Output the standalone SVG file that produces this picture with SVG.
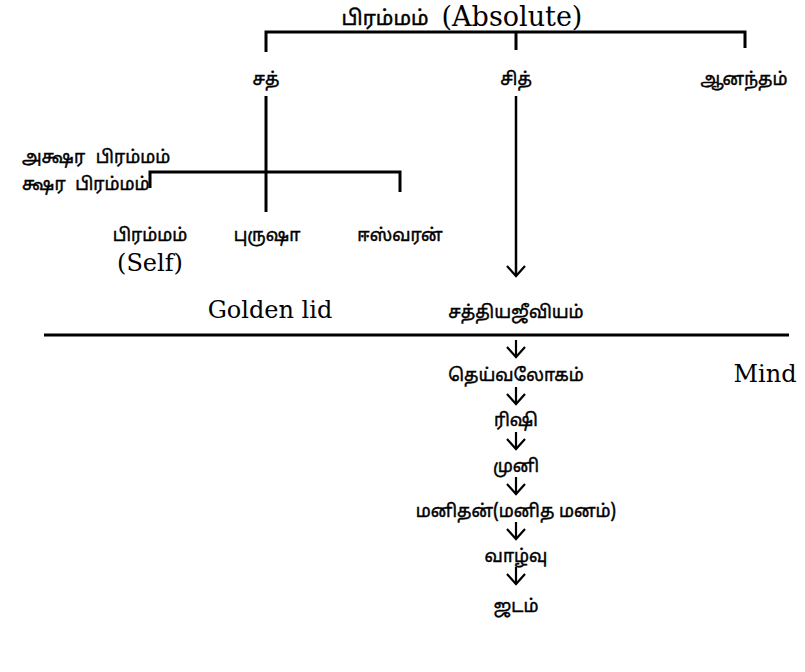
<svg xmlns="http://www.w3.org/2000/svg" width="805" height="672" viewBox="0 0 805 672">
<defs>
<style>
.ta{font-family:"Noto Sans Tamil","Noto Sans","Noto Sans CJK SC",sans-serif;font-size:17.5px;fill:#000;stroke:#000;stroke-width:0.45;text-anchor:middle}
.en{font-family:"DejaVu Serif","Liberation Serif",serif;font-size:24px;fill:#000;text-anchor:middle}
.ln{stroke:#000;stroke-width:3;fill:none}
.ar{stroke:#000;stroke-width:2.2;fill:none}
</style>
<marker id="v" markerWidth="22" markerHeight="22" refX="11" refY="11" markerUnits="userSpaceOnUse" orient="auto">
<path d="M1,2 L11,11 L1,20" stroke="#000" stroke-width="2.2" fill="none"/>
</marker>
</defs>
<rect width="805" height="672" fill="#fff"/>
<g id="connectors">
<path class="ln" d="M266,52 V32 H745 V48 M516,32 V50"/>
<path class="ln" d="M266,96 V212"/>
<path class="ln" d="M150,188 V172 H400 V192"/>
<path class="ar" d="M516,96 V276" marker-end="url(#v)" style="stroke-width:2.5"/>
<path class="ln" d="M44,335 H789"/>
<path class="ar" d="M516,340 V357" marker-end="url(#v)"/>
<path class="ar" d="M516,387 V404" marker-end="url(#v)"/>
<path class="ar" d="M516,432 V449" marker-end="url(#v)"/>
<path class="ar" d="M516,477 V494" marker-end="url(#v)"/>
<path class="ar" d="M516,522 V539" marker-end="url(#v)"/>
<path class="ar" d="M516,567 V584" marker-end="url(#v)"/>
</g>
<g id="n-absolute"><text x="385" y="25" class="ta" style="font-size:20.5px">பிரம்மம்</text><text x="512" y="26" class="en" style="font-size:27px">(Absolute)</text></g>
<g id="n-sat"><text x="266" y="85" class="ta">சத்</text></g>
<g id="n-chit"><text x="516" y="85" class="ta">சித்</text></g>
<g id="n-ananda"><text x="744" y="85" class="ta">ஆனந்தம்</text></g>
<g id="n-akshara"><text x="22" y="163" class="ta" style="text-anchor:start;word-spacing:6px">அக்ஷர பிரம்மம்</text></g>
<g id="n-kshara"><text x="22" y="190" class="ta" style="text-anchor:start;word-spacing:5px">க்ஷர பிரம்மம்</text></g>
<g id="n-brahman-self"><text x="150" y="241" class="ta">பிரம்மம்</text><text x="150" y="271" class="en">(Self)</text></g>
<g id="n-purusha"><text x="267" y="241" class="ta">புருஷா</text></g>
<g id="n-ishvara"><text x="400" y="241" class="ta">ஈஸ்வரன்</text></g>
<g id="n-golden-lid"><text x="270" y="318" class="en">Golden lid</text></g>
<g id="n-satyajivan"><text x="516" y="318" class="ta">சத்தியஜீவியம்</text></g>
<g id="n-deivaloka"><text x="516" y="381" class="ta">தெய்வலோகம்</text></g>
<g id="n-mind"><text x="765" y="382" class="en">Mind</text></g>
<g id="n-rishi"><text x="516" y="426" class="ta">ரிஷி</text></g>
<g id="n-muni"><text x="516" y="472" class="ta">முனி</text></g>
<g id="n-manithan"><text x="516" y="517" class="ta">மனிதன்(மனித மனம்)</text></g>
<g id="n-vazhvu"><text x="516" y="562" class="ta">வாழ்வு</text></g>
<g id="n-jadam"><text x="516" y="612" class="ta">ஜடம்</text></g>
</svg>
